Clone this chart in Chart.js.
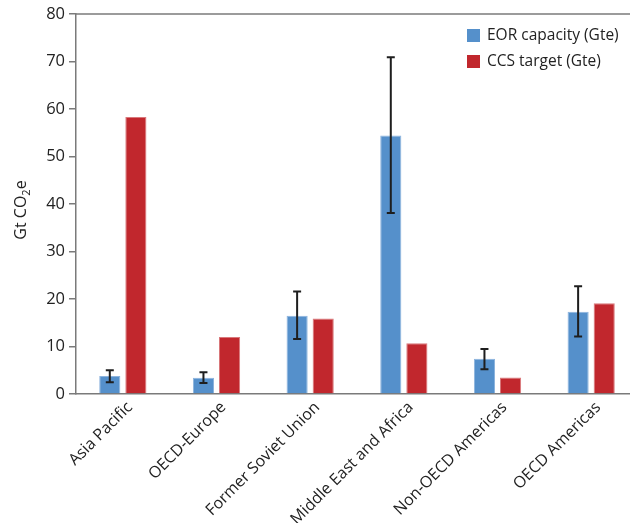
<!DOCTYPE html>
<html>
<head>
<meta charset="utf-8">
<script src="https://cdn.jsdelivr.net/npm/chart.js@4"></script>
<style>
  html, body { margin: 0; padding: 0; background: #fff; overflow: hidden; }
  #wrap { width: 638px; height: 523px; }
</style>
</head>
<body>
<div id="wrap"><canvas id="chart"></canvas></div>
<script>
const regions = ["Asia Pacific", "OECD-Europe", "Former Soviet Union", "Middle East and Africa", "Non-OECD Americas", "OECD Americas"]
const eorCapacity = [3.8, 3.4, 16.5, 54.4, 7.4, 17.3]
const eorLow = [2.5, 2.3, 11.6, 38.1, 5.2, 12.1]
const eorHigh = [5.0, 4.6, 21.6, 70.9, 9.5, 22.7]
const ccsTarget = [58.3, 12.0, 15.9, 10.7, 3.5, 19.1]
const yTicks = [0, 10, 20, 30, 40, 50, 60, 70, 80]

const FONT = "'Open Sans', sans-serif"
const AXIS = '#7a7a7a'

// error bars on the EOR bars
const errorBars = {
    id: 'errorBars',
    afterDatasetsDraw(chart) {
        const ctx = chart.ctx
        const y = chart.scales.y
        const meta = chart.getDatasetMeta(0)
        ctx.save()
        ctx.strokeStyle = '#1e1e1e'
        ctx.lineWidth = 2
        meta.data.forEach((bar, i) => {
            const top = y.getPixelForValue(eorHigh[i])
            const bot = y.getPixelForValue(eorLow[i])
            ctx.beginPath()
            ctx.moveTo(bar.x, top); ctx.lineTo(bar.x, bot)
            ctx.moveTo(bar.x - 4, top); ctx.lineTo(bar.x + 4, top)
            ctx.moveTo(bar.x - 4, bot); ctx.lineTo(bar.x + 4, bot)
            ctx.stroke()
        })
        ctx.restore()
    }
}

// top frame line + y title + legend box
const extras = {
    id: 'extras',
    beforeDatasetsDraw(chart) {
        const { ctx, chartArea } = chart
        ctx.save()
        ctx.strokeStyle = AXIS
        ctx.lineWidth = 1.5
        ctx.beginPath()
        ctx.moveTo(chartArea.left, chartArea.top)
        ctx.lineTo(chartArea.right, chartArea.top)
        ctx.stroke()
        ctx.restore()
    },
    afterDraw(chart) {
        const ctx = chart.ctx
        ctx.save()
        // y axis title with subscript
        ctx.translate(20, 210)
        ctx.rotate(-Math.PI / 2)
        ctx.fillStyle = '#222'
        ctx.textBaseline = 'alphabetic'
        ctx.font = `16px ${FONT}`
        const a = 'Gt CO', b = '2', c = 'e'
        const wa = ctx.measureText(a).width
        ctx.font = `11px ${FONT}`
        const wb = ctx.measureText(b).width
        ctx.font = `16px ${FONT}`
        const wc = ctx.measureText(c).width
        let x = -(wa + wb + wc) / 2
        ctx.fillText(a, x, 6)
        ctx.font = `11px ${FONT}`
        ctx.fillText(b, x + wa, 10)
        ctx.font = `16px ${FONT}`
        ctx.fillText(c, x + wa + wb, 6)
        ctx.restore()

        // legend
        ctx.save()
        ctx.font = `15.5px ${FONT}`
        ctx.textBaseline = 'middle'
        chart.data.datasets.forEach((ds, i) => {
            const ly = 35.5 + i * 26
            ctx.fillStyle = ds.backgroundColor
            ctx.fillRect(467, ly - 6.5, 13, 13)
            ctx.fillStyle = '#222'
            ctx.fillText(ds.label, 487, ly)
        })
        ctx.restore()
    }
}

new Chart(document.querySelector('#chart'), {
    type: 'bar',
    data: {
        labels: regions,
        datasets: [{
            label: 'EOR capacity (Gte)',
            data: eorCapacity,
            backgroundColor: '#5590cb',
            borderColor: '#8db4de',
            borderWidth: 1
        }, {
            label: 'CCS target (Gte)',
            data: ccsTarget,
            backgroundColor: '#c1272d',
            borderColor: '#d9787b',
            borderWidth: 1
        }]
    },
    options: {
        responsive: true,
        maintainAspectRatio: false,
        animation: false,
        layout: { padding: { top: 14, right: 0, left: 0, bottom: 0 } },
        datasets: { bar: { categoryPercentage: 0.557, barPercentage: 0.81 } },
        plugins: {
            legend: { display: false },
            tooltip: { enabled: false }
        },
        scales: {
            x: {
                grid: { display: false, drawTicks: false },
                border: { color: AXIS, width: 1.5 },
                ticks: {
                    color: '#222',
                    font: { family: FONT, size: 16 },
                    maxRotation: 45,
                    minRotation: 45,
                    padding: 4,
                    labelOffset: 7
                },
                afterFit: (s) => { s.height = 129 }
            },
            y: {
                min: 0,
                max: 80,
                afterBuildTicks: (s) => { s.ticks = yTicks.map(v => ({ value: v })) },
                grid: { drawOnChartArea: false, tickLength: 7, color: AXIS, lineWidth: 1.5 },
                border: { color: AXIS, width: 1.5 },
                ticks: {
                    color: '#222',
                    font: { family: FONT, size: 16.5 },
                    padding: 4
                },
                afterFit: (s) => { s.width = 76 }
            }
        }
    },
    plugins: [errorBars, extras]
})
</script>
</body>
</html>
